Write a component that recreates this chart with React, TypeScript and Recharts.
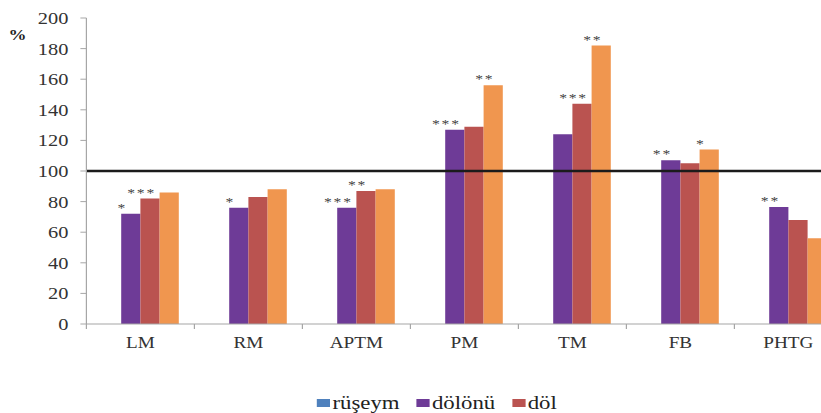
import { BarChart, Bar, XAxis, YAxis, ReferenceLine, LabelList } from "recharts";

// groups along the x axis
const categories = ["LM", "RM", "APTM", "PM", "TM", "FB", "PHTG"];

// % of control per group
const rusheym = [0, 0, 0, 0, 0, 0, 0];
const dolonu = [72, 76, 76, 127, 124, 107, 76.5];
const dol = [82, 83, 87, 129, 144, 105, 68];
const diger = [86, 88, 88, 156, 182, 114, 56];

// significance marks above the bars
const dolonuStars = ["*", "*", "***", "***", "", "**", "**"];
const dolStars = ["***", "", "**", "", "***", "", ""];
const digerStars = ["", "", "", "**", "**", "*", ""];

const yTicks = [0, 20, 40, 60, 80, 100, 120, 140, 160, 180, 200];
const seriesNames = ["rüşeym", "dölönü", "döl", "diğer"];

const COLORS = ["#4F81BD", "#6E3B97", "#BA5350", "#F0964F"];
const SERIF = '"Liberation Serif", "Times New Roman", serif';

// the whole chart is drawn narrow and stretched sideways
const SX = 1.2;
const CHART_W = 710;
const CHART_H = 413;
const Y_AXIS_W = 72;
const MARGIN = { top: 18, right: 8, bottom: 49, left: 0 };
const BAND = (CHART_W - MARGIN.left - MARGIN.right - Y_AXIS_W) / categories.length;

const data = categories.map((name, i) => ({
  name,
  rusheym: rusheym[i],
  dolonu: dolonu[i],
  dol: dol[i],
  diger: diger[i],
  dolonuStar: dolonuStars[i],
  dolStar: dolStars[i],
  digerStar: digerStars[i],
}));

function CategoryTick(props: any) {
  const { x, y, payload } = props;
  const left = Number(x) - BAND / 2;
  return (
    <g>
      <line x1={left} x2={left} y1={y} y2={Number(y) + 5} stroke="#a6a6a6" />
      <text
        x={x}
        y={Number(y) + 24}
        textAnchor="middle"
        fontSize={16}
        style={{ fontFamily: SERIF }}
        fill="#333"
      >
        {payload.value}
      </text>
    </g>
  );
}

const renderStars = (props: any) => {
  const { x, y, width, value } = props;
  if (!value) return null;
  return (
    <text
      x={Number(x) + Number(width) / 2 - 7}
      y={Number(y) - 2}
      textAnchor="middle"
      fontSize={13}
      letterSpacing={1.5}
      style={{ fontFamily: SERIF }}
      fill="#444"
    >
      {value}
    </text>
  );
};

export default function App() {
  return (
    <div
      style={{
        position: "fixed",
        left: 0,
        top: 0,
        width: 821,
        height: 413,
        overflow: "hidden",
        background: "#fff",
        fontFamily: SERIF,
      }}
    >
      <div
        style={{
          position: "relative",
          width: CHART_W,
          height: CHART_H,
          transform: `scaleX(${SX})`,
          transformOrigin: "0 0",
        }}
      >
        <div
          style={{
            position: "absolute",
            left: 7,
            top: 28,
            fontSize: 15,
            lineHeight: "15px",
            fontWeight: "bold",
            color: "#222",
          }}
        >
          %
        </div>

        <BarChart
          width={CHART_W}
          height={CHART_H}
          data={data}
          margin={MARGIN}
          barGap={0}
          barSize={16}
          style={{ fontFamily: SERIF }}
        >
          <YAxis
            width={Y_AXIS_W}
            domain={[0, 200]}
            ticks={yTicks}
            interval={0}
            tickSize={5}
            tickMargin={10}
            axisLine={{ stroke: "#a6a6a6" }}
            tickLine={{ stroke: "#a6a6a6" }}
            tick={{ fill: "#333", fontSize: 17, style: { fontFamily: SERIF } }}
          />
          <XAxis
            dataKey="name"
            height={40}
            interval={0}
            tickSize={0}
            tickMargin={0}
            tickLine={false}
            axisLine={{ stroke: "#a6a6a6" }}
            tick={<CategoryTick />}
          />
          <Bar dataKey="rusheym" name={seriesNames[0]} fill={COLORS[0]} isAnimationActive={false} />
          <Bar dataKey="dolonu" name={seriesNames[1]} fill={COLORS[1]} isAnimationActive={false}>
            <LabelList dataKey="dolonuStar" content={renderStars} />
          </Bar>
          <Bar dataKey="dol" name={seriesNames[2]} fill={COLORS[2]} isAnimationActive={false}>
            <LabelList dataKey="dolStar" content={renderStars} />
          </Bar>
          <Bar dataKey="diger" name={seriesNames[3]} fill={COLORS[3]} isAnimationActive={false}>
            <LabelList dataKey="digerStar" content={renderStars} />
          </Bar>
          <ReferenceLine y={100} stroke="#1b1b1b" strokeWidth={2.5} ifOverflow="extendDomain" />
        </BarChart>

        <div
          style={{
            position: "absolute",
            left: 264,
            top: 393,
            display: "flex",
            gap: 14,
            fontSize: 19,
            lineHeight: "19px",
            color: "#222",
            whiteSpace: "nowrap",
          }}
        >
          {seriesNames.slice(0, 3).map((name, i) => (
            <span key={name}>
              <span
                style={{
                  display: "inline-block",
                  width: 11,
                  height: 8,
                  marginRight: 2,
                  marginBottom: 2,
                  background: COLORS[i],
                }}
              />
              {name}
            </span>
          ))}
        </div>
      </div>
    </div>
  );
}
